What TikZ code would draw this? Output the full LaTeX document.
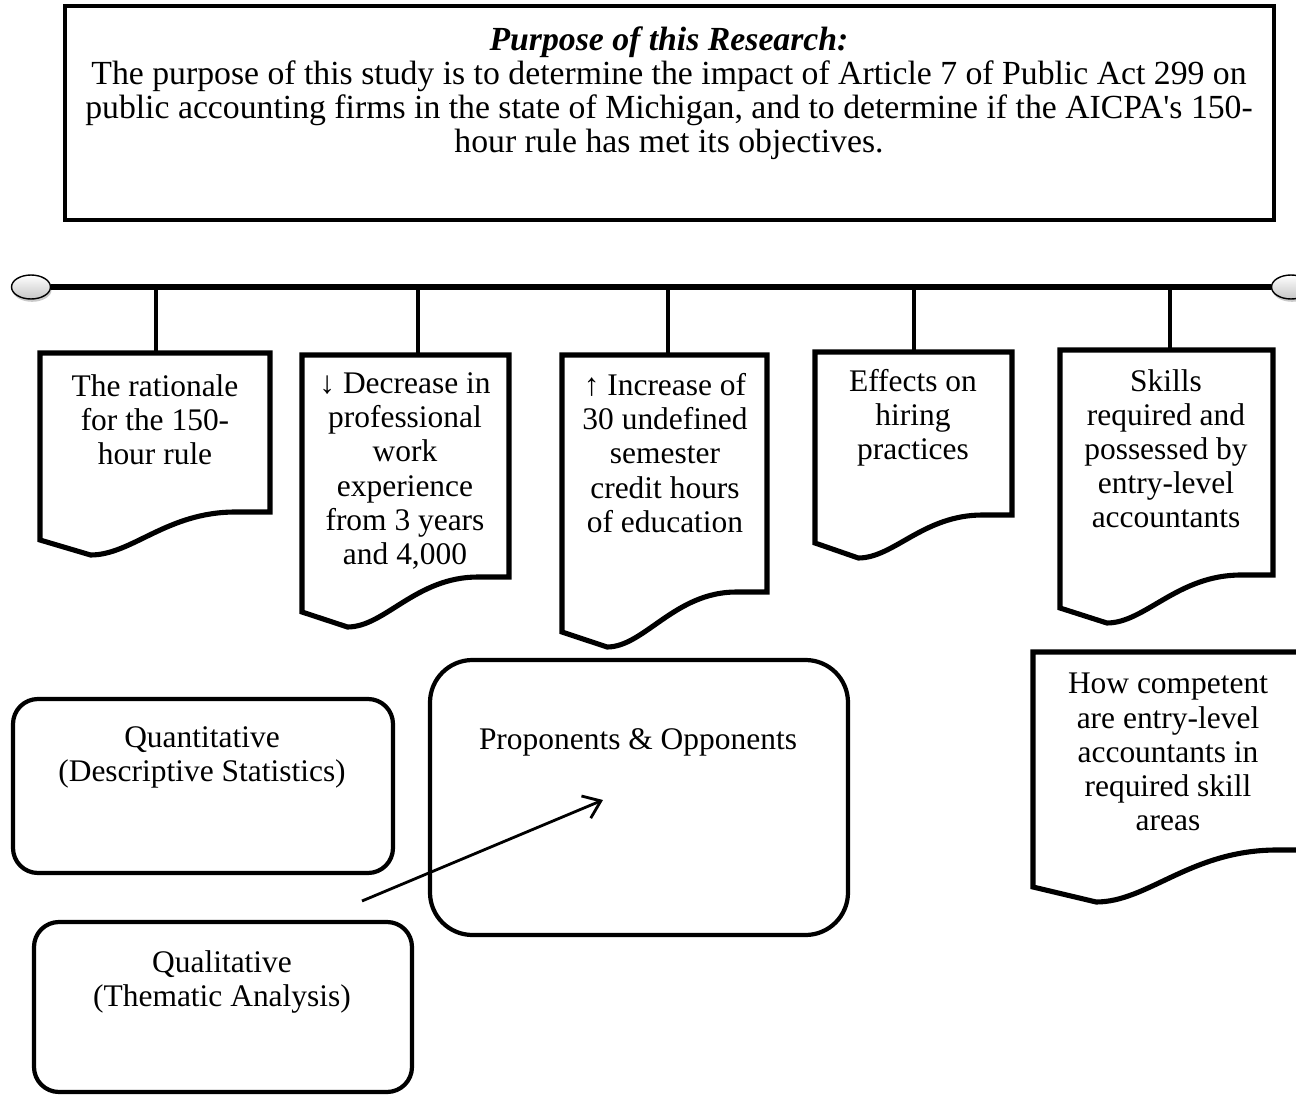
\documentclass[tikz,border=0pt]{standalone}
\usepackage{fontspec}
\setmainfont{Liberation Serif}
\usetikzlibrary{arrows.meta,shapes.geometric,shadows}

% document outline: left, right, top, bottom-left, bottom-right
\newcommand{\docshape}[5]{%
  \pgfmathsetmacro{\dw}{#2-#1}
  \draw[docline] (#1,#3) -- (#2,#3) -- (#2,#5) -- ({#2-0.15*\dw},#5)
    .. controls ({#2-0.45*\dw},#5) and ({#1+0.4*\dw},#4+15) .. ({#1+0.22*\dw},#4+15)
    -- (#1,#4) -- cycle;}

\begin{document}
\begin{tikzpicture}[x=0.02cm,y=-0.02cm,
  txt/.style={align=center,inner sep=0pt,font=\fontsize{17.9}{19.4}\selectfont},
  boxline/.style={line width=2.8pt},
  docline/.style={line width=2.9pt,line join=miter},
  roundline/.style={line width=2.4pt},
  stubline/.style={line width=2.3pt},
  barline/.style={line width=3.4pt},
  endcap/.style={ellipse,draw,line width=0.8pt,minimum width=0.78cm,minimum height=0.48cm,inner sep=0pt,
    top color=white,bottom color=gray!45,
    drop shadow={shadow xshift=0.6pt,shadow yshift=-1.6pt,fill=gray!70,opacity=0.6}}]
  \clip (0,0) rectangle (1296,1095);

  % purpose
  \draw[boxline] (65,6) rectangle (1274,220);
  \node[txt,font=\fontsize{19.2}{19.3}\selectfont] (purpose) at (669,93) {\textbf{\textit{Purpose of this Research:}}\\
    The purpose of this study is to determine the impact of Article 7 of Public Act 299 on\\
    public accounting firms in the state of Michigan, and to determine if the AICPA\textquotesingle s 150-\\
    hour rule has met its objectives.};

  % timeline bar
  \node[endcap] (capL) at (31,287) {};
  \node[endcap] (capR) at (1291,287) {};
  \draw[barline] (capL.east) -- (capR.west);
  \foreach \x/\t [count=\i] in {156/353,418/355,668/355,914/352,1170/350} {
    \coordinate (b\i) at (\x,287);
    \coordinate (t\i) at (\x,\t);
    \draw[stubline] (b\i) -- (t\i);
  }

  % documents
  \docshape{40}{270}{353}{540}{512}
  \docshape{302}{509}{355}{612}{577}
  \docshape{562}{767}{355}{632}{592}
  \docshape{815}{1012}{352}{543}{515}
  \docshape{1060}{1273}{350}{608}{575}
  \docshape{1033}{1320}{652}{887}{850}
  \node[txt] (rationale) at (155,420) {The rationale\\for the 150-\\hour rule};
  \node[txt] (decrease) at (405,471) {↓ Decrease in\\professional\\work\\experience\\from 3 years\\and 4,000};
  \node[txt] (increase) at (665,453) {↑ Increase of\\30 undefined\\semester\\credit hours\\of education};
  \node[txt] (hiring) at (913,418) {Effects on\\hiring\\practices};
  \node[txt] (skills) at (1166,449) {Skills\\required and\\possessed by\\entry-level\\accountants};
  \node[txt] (competent) at (1168,752) {How competent\\are entry-level\\accountants in\\required skill\\areas};

  % methods
  \draw[roundline,rounded corners=0.5cm] (13,699) rectangle (393,873);
  \node[txt] (quant) at (202,757) {Quantitative\\(Descriptive Statistics)};
  \draw[roundline,rounded corners=0.85cm] (430,660) rectangle (848,935);
  \node[txt] (prop) at (638,742) {Proponents \& Opponents};
  \draw[roundline,rounded corners=0.5cm] (34,922) rectangle (412,1092);
  \node[txt] (qual) at (222,982) {Qualitative\\(Thematic Analysis)};

  \coordinate (tail) at (362,901);
  \coordinate (head) at (603,800);
  \draw[line width=1.6pt,-{Straight Barb[length=0.32cm,width=0.48cm]}] (tail) -- (head);
\end{tikzpicture}
\end{document}
